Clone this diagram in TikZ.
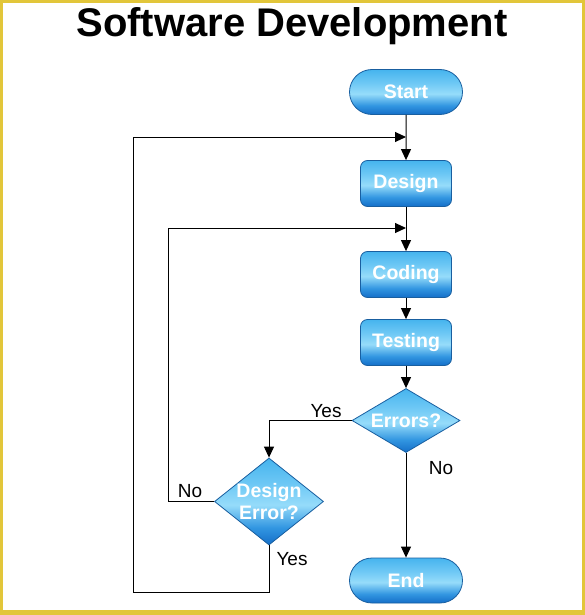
\documentclass[tikz,border=0pt]{standalone}
\usepackage{fontspec}
\setmainfont{Liberation Sans}
\usetikzlibrary{shapes.geometric,shapes.misc,arrows.meta}
\definecolor{frameyellow}{RGB}{226,198,58}
\definecolor{bborder}{RGB}{25,95,160}
\definecolor{sbot}{RGB}{20,110,200}
\definecolor{slow}{RGB}{50,150,225}
\definecolor{slight}{RGB}{150,220,250}
\definecolor{smid}{RGB}{110,200,245}
\definecolor{stop}{RGB}{70,180,238}
\pgfdeclareverticalshading{glossblue}{100bp}{color(0bp)=(sbot); color(25bp)=(sbot); color(35bp)=(slow); color(48bp)=(slight); color(60bp)=(smid); color(75bp)=(stop); color(100bp)=(stop)}
\tikzset{
  boxtext/.style={text=white, font=\bfseries\fontsize{19.5}{22}\selectfont, align=center},
  glossy/.style={shading=glossblue, draw=bborder, line width=0.8pt, inner sep=0pt},
  terminal/.style={glossy, rounded rectangle, minimum width=113pt, minimum height=45pt, boxtext},
  process/.style={glossy, rectangle, rounded corners=7pt, minimum width=91pt, minimum height=46pt, boxtext},
  decision/.style={glossy, diamond},
  lbl/.style={font=\fontsize{19}{22}\selectfont, text=black},
  arr/.style={draw=black, line width=1pt, -{Triangle[length=11pt,width=10pt]}},
}
\begin{document}
\begin{tikzpicture}[x=1pt,y=-1pt]
\useasboundingbox (0,0) rectangle (585,615);
\fill[white] (0,0) rectangle (585,615);
\draw[frameyellow, line width=3pt] (1.5,1.5) rectangle (583.5,613.5);
\fill[frameyellow] (0,610) rectangle (585,615);

\node[font=\bfseries\fontsize{40}{44}\selectfont] (title) at (292,26) {Software Development};

\node[terminal] (start) at (406,92) {Start};
\node[process] (design) at (406,183.5) {Design};
\node[process] (coding) at (406,274.5) {Coding};
\node[process] (testing) at (406,342.5) {Testing};
\node[decision, minimum width=108pt, minimum height=64pt, label={[boxtext]center:Errors?}] (errors) at (406,420.5) {};
\node[decision, minimum width=109pt, minimum height=87pt, label={[boxtext]center:{Design\\Error?}}] (derr) at (269,501.5) {};
\node[terminal] (stopnode) at (406,580.5) {End};

\coordinate (l1) at (133,592);
\coordinate (l1top) at (133,137);
\coordinate (in1) at (406,137);
\coordinate (l2) at (168,228);
\coordinate (in2) at (406,228);

\draw[arr] (start) -- (design);
\draw[arr] (design) -- (coding);
\draw[arr] (coding) -- (testing);
\draw[arr] (testing) -- (errors);
\draw[arr] (errors.west) -| (derr.north);
\draw[arr] (errors.south) -- (stopnode.north);
\draw[arr] (derr.south) |- (l1) -- (l1top) -- (in1);
\draw[arr] (derr.west) -| (l2) -- (in2);

\node[lbl] (yes1) at (326,411) {Yes};
\node[lbl] (no1) at (441,468) {No};
\node[lbl] (no2) at (190,491) {No};
\node[lbl] (yes2) at (292,559) {Yes};
\end{tikzpicture}
\end{document}
